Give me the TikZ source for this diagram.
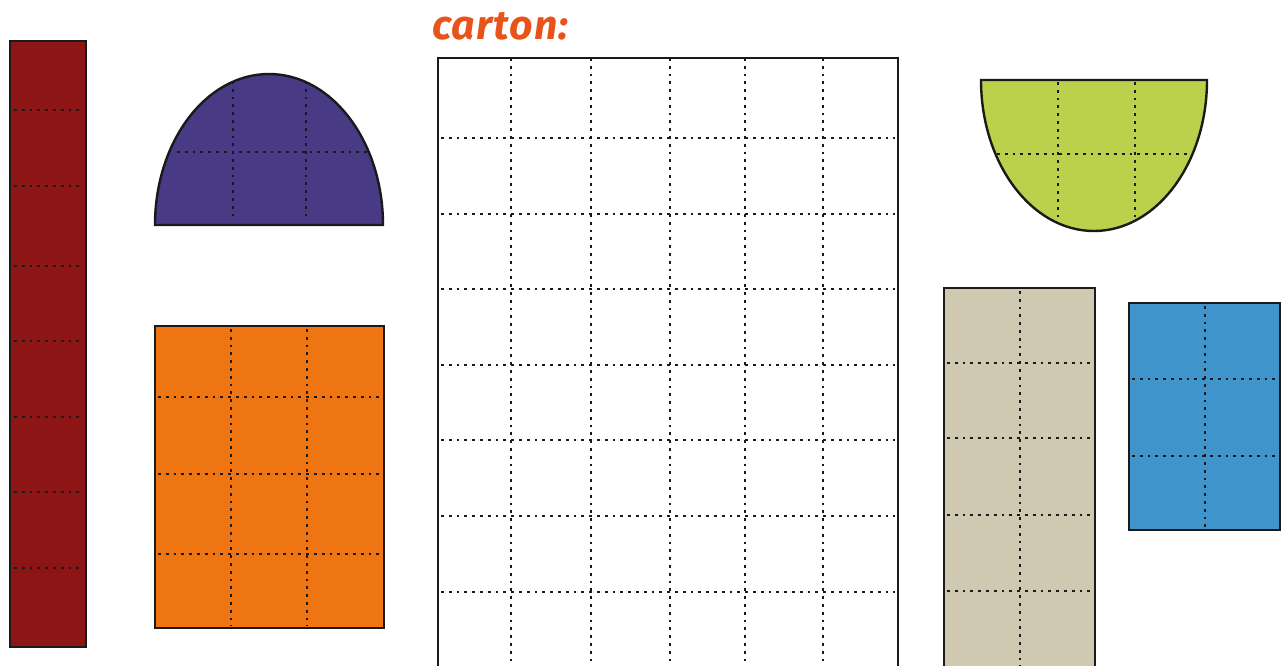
\documentclass[tikz,border=0pt]{standalone}
\usepackage{fontspec}
\newfontfamily\titlefont[LetterSpace=3]{Fira Sans}
\definecolor{cred}{HTML}{8E1515}
\definecolor{cpurple}{HTML}{483A85}
\definecolor{corange}{HTML}{EE7512}
\definecolor{cgreen}{HTML}{BBD14B}
\definecolor{cbeige}{HTML}{CEC9B0}
\definecolor{cblue}{HTML}{3F95CB}
\definecolor{ctitle}{HTML}{E8531A}
\definecolor{cline}{HTML}{1A1A1A}
\tikzset{
  piece/.style={draw=cline, line width=2.4pt},
  dots/.style={draw=cline, line width=2.8pt, dash pattern=on 2.8pt off 5.0pt},
}
\begin{document}
\begin{tikzpicture}[x=1pt,y=1pt]
\useasboundingbox (0,0) rectangle (1284,-666);
\clip (0,0) rectangle (1284,-666);
% red strip
\draw[piece, fill=cred] (10,-41) rectangle (86,-647);
\foreach \y in {110,186,266,341,417,492,568}
  \draw[dots] (14,-\y) -- (84,-\y);
% purple dome
\draw[piece, fill=cpurple] (155,-225) arc[start angle=180, end angle=0, x radius=114, y radius=151] -- cycle;
\draw[dots] (233,-81) -- (233,-219);
\draw[dots] (306,-81) -- (306,-219);
\draw[dots] (177,-152) -- (367,-152);
% orange rectangle
\draw[piece, fill=corange] (155,-326) rectangle (384,-628);
\foreach \x in {231,307}
  \draw[dots] (\x,-329) -- (\x,-626);
\foreach \y in {397,474,554}
  \draw[dots] (158,-\y) -- (382,-\y);
% title
\node[anchor=base west, inner sep=0pt, text=ctitle, font=\titlefont\itshape\bfseries\fontsize{41}{44}\selectfont] (title) at (432,-40) {carton:};
% big white board
\draw[piece, fill=white] (438,-58) rectangle (898,-700);
\foreach \x in {511,591,670,745,823}
  \draw[dots] (\x,-58) -- (\x,-700);
\foreach \y in {138,214,289,365,440,516,592}
  \draw[dots] (441,-\y) -- (895,-\y);
% green bowl
\draw[piece, fill=cgreen] (981,-80) arc[start angle=180, end angle=360, x radius=113, y radius=151] -- cycle;
\draw[dots] (1058,-82) -- (1058,-220);
\draw[dots] (1135,-82) -- (1135,-220);
\draw[dots] (997,-154) -- (1192,-154);
% beige rectangle
\draw[piece, fill=cbeige] (944,-288) rectangle (1095,-700);
\draw[dots] (1020,-291) -- (1020,-700);
\foreach \y in {363,438,515,591}
  \draw[dots] (947,-\y) -- (1094,-\y);
% blue rectangle
\draw[piece, fill=cblue] (1129,-303) rectangle (1280,-530);
\draw[dots] (1205,-306) -- (1205,-528);
\foreach \y in {379,456}
  \draw[dots] (1132,-\y) -- (1279,-\y);
\end{tikzpicture}
\end{document}
